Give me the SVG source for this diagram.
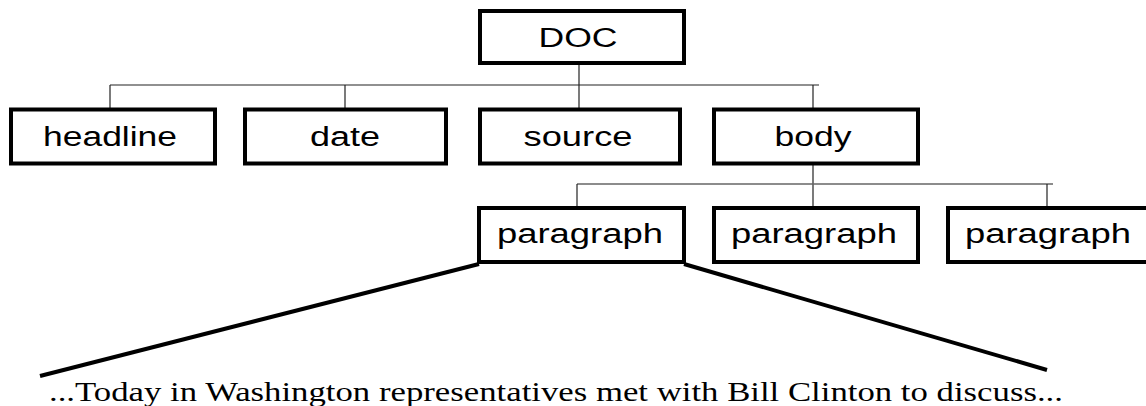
<svg xmlns="http://www.w3.org/2000/svg" width="1146" height="406" viewBox="0 0 1146 406">
<style>
.box{fill:#fff;stroke:#000;stroke-width:4}
.lbl{font-family:"Liberation Sans",Arial,sans-serif;font-size:27px;fill:#000;text-anchor:middle}
.thin{stroke:#222;stroke-width:1.2;fill:none}
.thin2{stroke:#666;stroke-width:1.4;fill:none}
.thick{stroke:#000;stroke-width:4;fill:none}
.quote{font-family:"Liberation Serif","Times New Roman",serif;font-size:27px;fill:#000}
</style>
<rect width="1146" height="406" fill="#fff"/>
<g id="connectors">
<line class="thin" x1="579" y1="65" x2="579" y2="108"/>
<line class="thin" x1="110" y1="85" x2="819" y2="85"/>
<line class="thin" x1="110" y1="85" x2="110" y2="108"/>
<line class="thin" x1="345" y1="85" x2="345" y2="108"/>
<line class="thin" x1="813" y1="85" x2="813" y2="108"/>
<line class="thin" x1="813" y1="165" x2="813" y2="206"/>
<line class="thin2" x1="577" y1="184" x2="1053" y2="184"/>
<line class="thin" x1="577" y1="184" x2="577" y2="206"/>
<line class="thin" x1="1047" y1="184" x2="1047" y2="206"/>
<line class="thick" x1="479" y1="264" x2="40" y2="376"/>
<line class="thick" x1="684" y1="264" x2="1047" y2="370"/>
</g>
<g id="doc"><rect class="box" x="480" y="11" width="204" height="52"/><text class="lbl" x="578" y="47" textLength="79" lengthAdjust="spacingAndGlyphs">DOC</text></g>
<g id="headline"><rect class="box" x="11" y="109.5" width="204" height="54"/><text class="lbl" x="110" y="146" textLength="134" lengthAdjust="spacingAndGlyphs">headline</text></g>
<g id="date"><rect class="box" x="245" y="109.5" width="201" height="54"/><text class="lbl" x="345" y="146" textLength="70" lengthAdjust="spacingAndGlyphs">date</text></g>
<g id="source"><rect class="box" x="480" y="109.5" width="200" height="54"/><text class="lbl" x="578" y="146" textLength="109" lengthAdjust="spacingAndGlyphs">source</text></g>
<g id="body"><rect class="box" x="714" y="109.5" width="204" height="54"/><text class="lbl" x="813" y="146" textLength="77" lengthAdjust="spacingAndGlyphs">body</text></g>
<g id="paragraph1"><rect class="box" x="479" y="208" width="205" height="54"/><text class="lbl" x="580" y="243" textLength="166" lengthAdjust="spacingAndGlyphs">paragraph</text></g>
<g id="paragraph2"><rect class="box" x="714" y="208" width="204" height="54"/><text class="lbl" x="814" y="243" textLength="166" lengthAdjust="spacingAndGlyphs">paragraph</text></g>
<g id="paragraph3"><rect class="box" x="948" y="208" width="205" height="54"/><text class="lbl" x="1048" y="243" textLength="166" lengthAdjust="spacingAndGlyphs">paragraph</text></g>
<g id="excerpt"><text class="quote" x="49" y="401" textLength="1014" lengthAdjust="spacingAndGlyphs">...Today in Washington representatives met with Bill Clinton to discuss...</text></g>
</svg>
